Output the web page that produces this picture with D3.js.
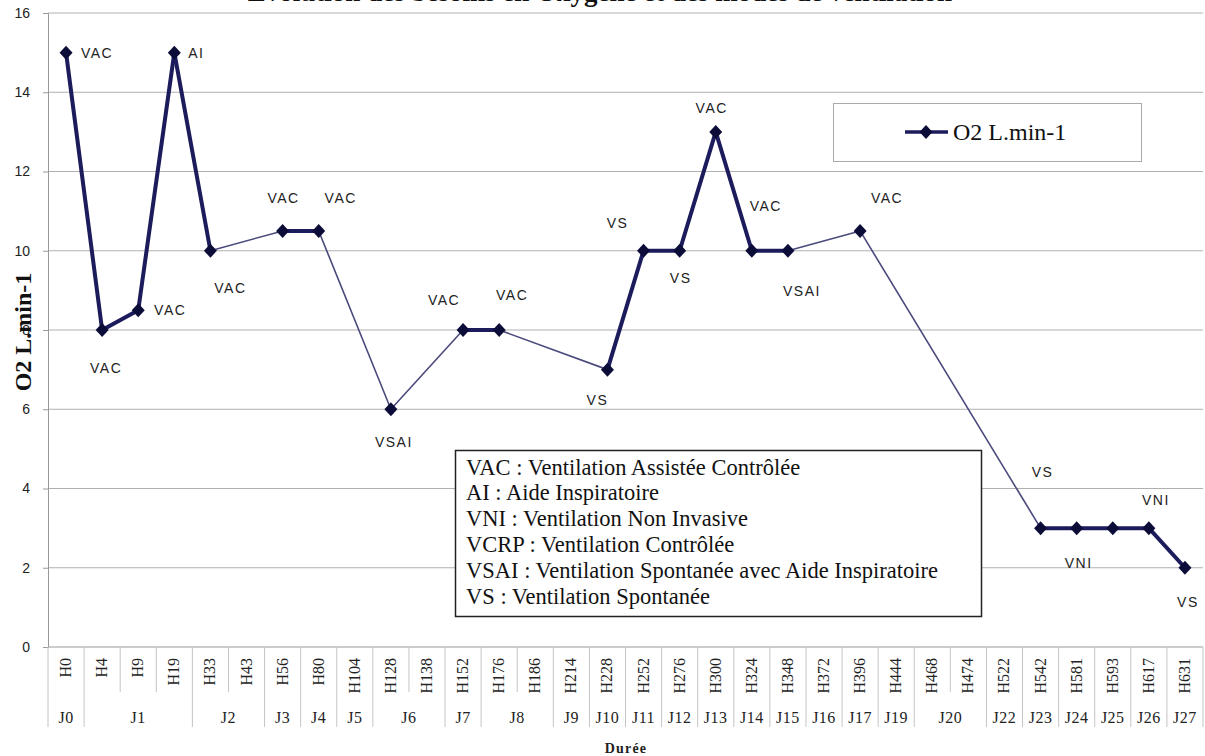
<!DOCTYPE html>
<html><head><meta charset="utf-8">
<script src="https://cdn.jsdelivr.net/npm/d3@7"></script>
<style>
html,body{margin:0;padding:0;background:#fff;}
svg{display:block;}
</style></head>
<body>
<svg id="chart" width="1205" height="756"></svg>
<script>
const titleText = "Evolution des besoins en Oxygène et des modes de ventilation";
const categories = ["H0","H4","H9","H19","H33","H43","H56","H80","H104","H128","H138","H152","H176","H186","H214","H228","H252","H276","H300","H324","H348","H372","H396","H444","H468","H474","H522","H542","H581","H593","H617","H631"];
const days = ["J0","J1","J1","J1","J2","J2","J3","J4","J5","J6","J6","J7","J8","J8","J9","J10","J11","J12","J13","J14","J15","J16","J17","J19","J20","J20","J22","J23","J24","J25","J26","J27"];
const values = [15,8,8.5,15,10,null,10.5,10.5,null,6,null,8,8,null,null,7,10,10,13,10,10,null,10.5,null,null,null,null,3,3,3,3,2];
const modes = ["VAC","VAC","VAC","AI","VAC",null,"VAC","VAC",null,"VSAI",null,"VAC","VAC",null,null,"VS","VS","VS","VAC","VAC","VSAI",null,"VAC",null,null,null,null,"VS","VNI",null,"VNI","VS"];
const yTicks = [0,2,4,6,8,10,12,14,16];
const seriesName = "O2 L.min-1";
const yTitle = "O2 L.min-1";
const xTitle = "Durée";
const noteLines = [
  "VAC : Ventilation Assistée Contrôlée",
  "AI : Aide Inspiratoire",
  "VNI : Ventilation Non Invasive",
  "VCRP : Ventilation Contrôlée",
  "VSAI : Ventilation Spontanée avec Aide Inspiratoire",
  "VS : Ventilation Spontanée"
];
// label placement (style): pixel offsets of each mode label from its point
const labelOffsets = [[31,0],[4,38],[32,0],[22,0],[20,37],null,[1,-33],[22,-33],null,[3,33],null,[-19,-30],[13,-35],null,null,[-10,30],[-26,-28],[1,27],[-4,-24],[14,-45],[14,40],null,[27,-33],null,null,null,null,[2,-56],[2,35],null,[7,-28],[3,34]];

const svg = d3.select("#chart");
const L = 48, R = 1203, T = 13, B = 647;
const x = d3.scaleBand().domain(categories).range([L, R]).padding(0);
const y = d3.scaleLinear().domain([0,16]).range([B, T]);
const cx = c => x(c) + x.bandwidth()/2;

// title (clipped at top as in reference)
svg.append("text").attr("x", 600).attr("y", 1).attr("text-anchor","middle")
  .attr("font-family","'Liberation Serif','Times New Roman',serif").attr("font-weight","bold")
  .attr("font-size",27).attr("fill","#111").text(titleText);

// gridlines
svg.append("g").selectAll("line").data(yTicks.filter(d=>d>0)).join("line")
  .attr("x1", L).attr("x2", R).attr("y1", d=>y(d)).attr("y2", d=>y(d))
  .attr("stroke","#b0b0b0").attr("stroke-width",1);

// y axis
const yAxis = d3.axisLeft(y).tickValues(yTicks).tickSize(5).tickPadding(13);
const gy = svg.append("g").attr("transform",`translate(${L},0)`).call(yAxis);
gy.select(".domain").attr("stroke","#999");
gy.selectAll(".tick line").attr("stroke","#999");
gy.selectAll(".tick text").attr("font-family","'Liberation Sans Narrow','Liberation Sans',Arial,sans-serif")
  .attr("font-size",14).attr("fill","#222");

// y title
svg.append("text").attr("transform",`translate(31,${(T+B)/2+2}) rotate(-90)`)
  .attr("text-anchor","middle")
  .attr("font-family","'Liberation Serif','Times New Roman',serif").attr("font-weight","bold")
  .attr("font-size",24).attr("fill","#111").text(yTitle);

// x axis line
svg.append("line").attr("x1",L).attr("x2",R).attr("y1",B).attr("y2",B).attr("stroke","#999");

// category separators
const sepG = svg.append("g");
for (let i = 0; i <= categories.length; i++) {
  const xx = i < categories.length ? x(categories[i]) : R;
  const full = (i === 0 || i === categories.length || days[i] !== days[i-1]);
  sepG.append("line").attr("x1",xx).attr("x2",xx).attr("y1",B).attr("y2", full ? 727 : 692)
    .attr("stroke","#c4c4c4").attr("stroke-width",1);
}
// H labels
svg.append("g").selectAll("text").data(categories).join("text")
  .attr("transform", d=>`translate(${cx(d)+5},658) rotate(-90)`)
  .attr("text-anchor","end")
  .attr("font-family","'Liberation Serif','Times New Roman',serif")
  .attr("font-size",16).attr("fill","#222").text(d=>d);
// J labels (groups)
const groups = [];
days.forEach((d,i)=>{
  if (groups.length && groups[groups.length-1].day === d) groups[groups.length-1].end = i;
  else groups.push({day:d,start:i,end:i});
});
svg.append("g").selectAll("text").data(groups).join("text")
  .attr("x", g => (x(categories[g.start]) + x(categories[g.end]) + x.bandwidth())/2)
  .attr("y", 723).attr("text-anchor","middle")
  .attr("font-family","'Liberation Serif','Times New Roman',serif")
  .attr("font-size",16).attr("letter-spacing",0.5).attr("fill","#222").text(g=>g.day);

// x title
svg.append("text").attr("x",626).attr("y",753).attr("text-anchor","middle")
  .attr("font-family","'Liberation Serif','Times New Roman',serif").attr("font-weight","bold")
  .attr("font-size",14).attr("letter-spacing",1.2).attr("fill","#222").text(xTitle);

// series
const pts = categories.map((c,i)=>({c,i,v:values[i],m:modes[i]})).filter(p=>p.v!==null);
const segs = [];
for (let k=1;k<pts.length;k++) segs.push({a:pts[k-1],b:pts[k],thick:pts[k].i-pts[k-1].i===1});
svg.append("g").selectAll("line").data(segs).join("line")
  .attr("x1",s=>cx(s.a.c)).attr("y1",s=>y(s.a.v)).attr("x2",s=>cx(s.b.c)).attr("y2",s=>y(s.b.v))
  .attr("stroke",s=>s.thick?"#1c1c5c":"#4a4a7c").attr("stroke-width",s=>s.thick?4:1.6)
  .attr("stroke-linecap","round");
const diamond = "M0,-7L6.5,0L0,7L-6.5,0Z";
svg.append("g").selectAll("path").data(pts).join("path")
  .attr("transform",p=>`translate(${cx(p.c)},${y(p.v)})`).attr("d",diamond).attr("fill","#0c0c38");

// mode labels
svg.append("g").selectAll("text").data(pts.filter(p=>p.m && labelOffsets[p.i])).join("text")
  .attr("x",p=>cx(p.c)+labelOffsets[p.i][0]).attr("y",p=>y(p.v)+labelOffsets[p.i][1])
  .attr("text-anchor","middle").attr("dominant-baseline","central")
  .attr("font-family","'Liberation Sans',Arial,sans-serif").attr("font-size",14)
  .attr("letter-spacing",1.5).attr("fill","#222").text(p=>p.m);

// legend
const lg = svg.append("g");
lg.append("rect").attr("x",833.5).attr("y",103.5).attr("width",308).attr("height",58)
  .attr("fill","#fff").attr("stroke","#aaa");
lg.append("line").attr("x1",905).attr("x2",948).attr("y1",132).attr("y2",132)
  .attr("stroke","#1c1c5c").attr("stroke-width",3.5);
lg.append("path").attr("transform","translate(926,132)").attr("d",diamond).attr("fill","#0c0c38");
lg.append("text").attr("x",953).attr("y",132).attr("dominant-baseline","central")
  .attr("font-family","'Liberation Serif','Times New Roman',serif").attr("font-size",24)
  .attr("fill","#111").text(seriesName);

// notes box
const nb = svg.append("g");
nb.append("rect").attr("x",455.5).attr("y",450.5).attr("width",526).attr("height",166)
  .attr("fill","#fff").attr("stroke","#222").attr("stroke-width",1.5);
nb.selectAll("text").data(noteLines).join("text")
  .attr("x",466).attr("y",(d,i)=>467+i*25.8).attr("dominant-baseline","central")
  .attr("font-family","'Liberation Serif','Times New Roman',serif").attr("font-size",22.5)
  .attr("fill","#111").text(d=>d);
</script>
</body></html>
